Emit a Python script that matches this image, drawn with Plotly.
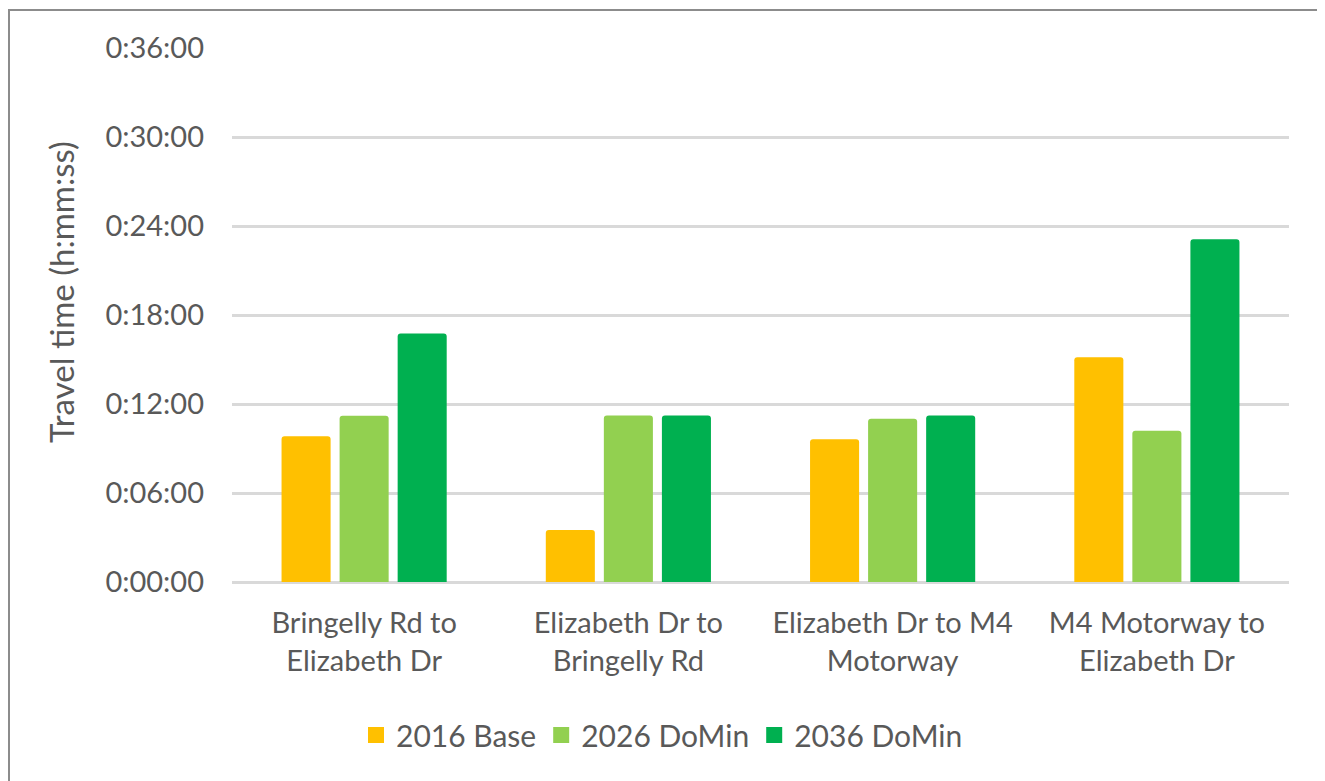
import plotly.graph_objects as go

# ---- data (travel time in minutes) ----
categories = ["Bringelly Rd to<br>Elizabeth Dr", "Elizabeth Dr to<br>Bringelly Rd",
              "Elizabeth Dr to M4<br>Motorway", "M4 Motorway to<br>Elizabeth Dr"]
series_names = ["2016 Base", "2026 DoMin", "2036 DoMin"]
base_2016 = [9.83, 3.5, 9.62, 15.15]
domin_2026 = [11.2, 11.23, 11.0, 10.2]
domin_2036 = [16.75, 11.23, 11.23, 23.1]
tick_vals = [0, 6, 12, 18, 24, 30, 36]
tick_text = ["0:00:00", "0:06:00", "0:12:00", "0:18:00", "0:24:00", "0:30:00", "0:36:00"]
colors = ["#FFC000", "#92D050", "#00B050"]

W, H = 1325, 781
OFF = 8  # page offset of the figure (body margin)
ml, mt = 232 - OFF, 48 - OFF
mr = W - (1289 - OFF)
mb = H - (582 - OFF)
pw = W - ml - mr
ph = H - mt - mb

FONT = "Lato"
TXT = "#595959"
FS = 29


def px_x(page_x):
    return (page_x - OFF - ml) / pw


def px_y(page_y):
    return (H - mb - (page_y - OFF)) / ph


fig = go.Figure()
for name, vals, col in zip(series_names, [base_2016, domin_2026, domin_2036], colors):
    fig.add_trace(go.Bar(x=categories, y=vals, name=name, showlegend=False,
                         marker=dict(color=col, line=dict(width=0))))
# legend entries with square swatches
for name, col in zip(series_names, colors):
    fig.add_trace(go.Scatter(x=[None], y=[None], mode="markers", name=name,
                             marker=dict(symbol="square", size=18, color=col)))

fig.update_layout(
    width=W, height=H,
    margin=dict(l=ml, r=mr, t=mt, b=mb),
    paper_bgcolor="white", plot_bgcolor="white",
    barmode="group", bargap=0.341, bargroupgap=0.155, barcornerradius=3,
    font=dict(family=FONT, color=TXT, size=FS),
    showlegend=True,
    legend=dict(orientation="h", x=px_x(356), y=px_y(735), xanchor="left", yanchor="middle",
                font=dict(size=30, color=TXT), itemwidth=30, traceorder="normal",
                tracegroupgap=0, bgcolor="rgba(0,0,0,0)"),
)
fig.update_xaxes(showgrid=False, showline=False, ticks="", ticklabelstandoff=21,
                 tickfont=dict(size=FS, color=TXT), fixedrange=True)
fig.update_yaxes(range=[0, 36], tickvals=tick_vals, ticktext=tick_text,
                 showgrid=True, gridcolor="#D9D9D9", gridwidth=3, zeroline=True,
                 zerolinecolor="#D9D9D9", zerolinewidth=3, showline=False, ticks="",
                 ticklabelstandoff=27, tickfont=dict(size=FS, color=TXT), fixedrange=True)

# y axis title as annotation (positioned like the reference)
fig.add_annotation(text="Travel time (h:mm:ss)", textangle=-90, showarrow=False,
                   xref="paper", yref="paper",
                   x=px_x(61), y=px_y(292), xanchor="center", yanchor="middle",
                   font=dict(size=33, color=TXT, family=FONT))

# chart border (visible on left and top only)
fig.add_shape(type="line", xref="paper", yref="paper",
              x0=px_x(OFF + 1), x1=px_x(OFF + 1), y0=px_y(800), y1=px_y(10),
              line=dict(color="#8C8C8C", width=2))
fig.add_shape(type="line", xref="paper", yref="paper",
              x0=px_x(OFF), x1=px_x(1340), y0=px_y(10), y1=px_y(10),
              line=dict(color="#8C8C8C", width=2))

fig.write_html("out.html")
